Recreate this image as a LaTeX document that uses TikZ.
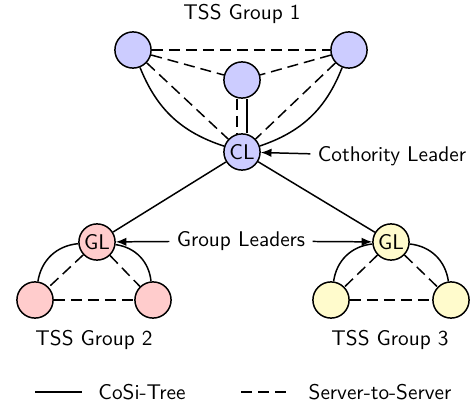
\documentclass[tikz,border=0pt]{standalone}
\usepackage{amsfonts,amssymb,amsmath}
\usepackage{xcolor}
\usetikzlibrary{positioning,calc}
\usetikzlibrary{arrows.meta,arrows}
\renewcommand{\familydefault}{\sfdefault}
\definecolor{grpblue}{RGB}{204,204,255}
\definecolor{grppink}{RGB}{255,204,204}
\definecolor{grpyellow}{RGB}{255,251,204}
\tikzset{
  server/.style={circle,draw,line width=0.7pt,minimum size=17pt,inner sep=0pt},
  tree/.style={line width=0.7pt},
  stos/.style={line width=0.7pt,dash pattern=on 5.2pt off 2.8pt},
  pointer/.style={line width=0.7pt,-{Latex[length=5pt,width=4pt]}},
}

\begin{document}
\begin{tikzpicture}[x=0.47pt,y=0.47pt]
        \useasboundingbox (0,0) rectangle (474,417);
        % group 1
        \node (g1) at (242,403) {TSS Group 1};
        \node (tl) [server,fill=grpblue] at (133,367) {};
        \node (tr) [server,fill=grpblue] at (349,367) {};
        \node (mid) [server,fill=grpblue] at (242,337) {};
        \node (cl) [server,fill=grpblue] at (242,265) {CL};
        \node (cothl) at (392,261) {Cothority Leader};
        % group 2
        \node (gl2) [server,fill=grppink] at (97,175) {GL};
        \node (p1) [server,fill=grppink] at (35,117) {};
        \node (p2) [server,fill=grppink] at (153,117) {};
        \node (g2) at (94,77) {TSS Group 2};
        % group 3
        \node (gl3) [server,fill=grpyellow] at (391,175) {GL};
        \node (y1) [server,fill=grpyellow] at (331,117) {};
        \node (y2) [server,fill=grpyellow] at (451,117) {};
        \node (g3) at (390,77) {TSS Group 3};
        \node (gls) at (241,176) {Group Leaders};
        % legend
        \coordinate (ta) at (35,25);
        \coordinate (tb) at (82,25);
        \coordinate (sa) at (241,25);
        \coordinate (sb) at (286,25);
        \node (leg1) at (142,25) {CoSi-Tree};
        \node (leg2) at (380,25) {Server-to-Server};
        \draw[tree] (ta) -- (tb);
        \draw[stos] (sa) -- (sb);
        % cosi tree
        \draw[tree] (tl) edge[bend right=25] (cl);
        \draw[tree] (tr) edge[bend left=25] (cl);
        \draw[tree] ([xshift=2.3pt]mid.south) -- ([xshift=2.3pt]cl.north);
        \draw[tree] (cl) edge (gl2);
        \draw[tree] (cl) edge (gl3);
        \draw[tree] (gl2) edge[bend right=38] (p1);
        \draw[tree] (gl2) edge[bend left=38] (p2);
        \draw[tree] (gl3) edge[bend right=38] (y1);
        \draw[tree] (gl3) edge[bend left=38] (y2);
        % server to server
        \draw[stos] (tl) edge (tr);
        \draw[stos] (tl) edge (mid);
        \draw[stos] (tr) edge (mid);
        \draw[stos] (tl) edge (cl);
        \draw[stos] (tr) edge (cl);
        \draw[stos] ([xshift=-2.3pt]mid.south) -- ([xshift=-2.3pt]cl.north);
        \draw[stos] (gl2) edge (p1);
        \draw[stos] (gl2) edge (p2);
        \draw[stos] (p1) edge (p2);
        \draw[stos] (gl3) edge (y1);
        \draw[stos] (gl3) edge (y2);
        \draw[stos] (y1) edge (y2);
        % pointers
        \draw[pointer] (cothl) -- (cl);
        \draw[pointer] (gls) -- (gl2);
        \draw[pointer] (gls) -- (gl3);
    \end{tikzpicture}
\end{document}
